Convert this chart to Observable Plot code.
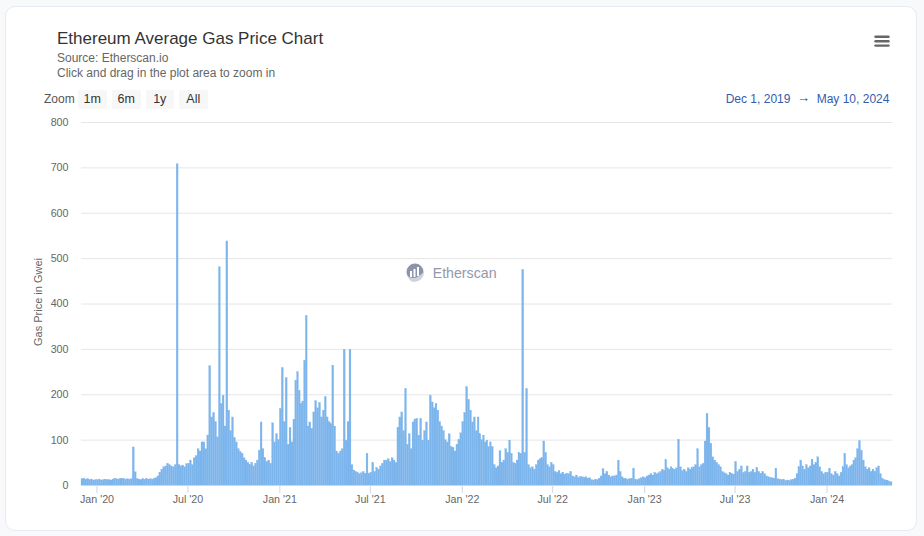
<!DOCTYPE html>
<html>
<head>
<meta charset="utf-8">
<script src="https://cdn.jsdelivr.net/npm/d3@7"></script>
<script src="https://cdn.jsdelivr.net/npm/@observablehq/plot@0.6"></script>
<style>
  html, body { margin: 0; padding: 0; }
  body { width: 924px; height: 536px; overflow: hidden; background: #f8f9fa; position: relative;
         font-family: "Liberation Sans", Arial, Helvetica, sans-serif; }
  .card { position: absolute; left: 5px; top: 6px; width: 910px; height: 523px; background: #fff;
          border: 1px solid #e7eaf3; border-radius: 10px; }
  .abs { position: absolute; white-space: nowrap; line-height: 1; }
  .title { left: 57px; top: 29.6px; font-size: 17px; color: #333; }
  .sub { left: 57px; font-size: 12px; color: #666; }
  .zoomlbl { left: 44px; top: 92.8px; font-size: 12px; color: #555; }
  .btn { top: 90px; width: 28.5px; height: 19px; line-height: 19px; background: #f7f7f7; border-radius: 2px;
         font-size: 12.5px; color: #333; text-align: center; }
  .date { top: 92.5px; font-size: 12px; color: #335cad; }
  .ylab { left: 38px; top: 302px; font-size: 11px; color: #666; transform: translate(-50%, -50%) rotate(-90deg); }
  #chart { position: absolute; left: 0; top: 110px; }
  .wm { left: 432.7px; top: 265.5px; font-size: 14.2px; color: #9398ae; }
</style>
</head>
<body>
<div class="card"></div>
<div class="abs title">Ethereum Average Gas Price Chart</div>
<div class="abs sub" style="top:52.1px">Source: Etherscan.io</div>
<div class="abs sub" style="top:66.8px">Click and drag in the plot area to zoom in</div>
<div class="abs zoomlbl">Zoom</div>
<div class="abs btn" style="left:78px">1m</div>
<div class="abs btn" style="left:112px">6m</div>
<div class="abs btn" style="left:145.5px">1y</div>
<div class="abs btn" style="left:179px">All</div>
<div class="abs date" style="left:725.7px">Dec 1, 2019</div>
<div class="abs date" style="left:797px;top:91px;font-size:13px;color:#444">→</div>
<div class="abs date" style="left:816.7px">May 10, 2024</div>
<svg class="abs" style="left:874px;top:35px" width="16" height="13" viewBox="0 0 16 13">
  <g stroke="#666" stroke-width="2.4" stroke-linecap="round">
    <line x1="1.5" y1="1.8" x2="14.5" y2="1.8"/>
    <line x1="1.5" y1="6.2" x2="14.5" y2="6.2"/>
    <line x1="1.5" y1="10.6" x2="14.5" y2="10.6"/>
  </g>
</svg>
<div class="abs ylab">Gas Price in Gwei</div>
<div id="chart"></div>
<svg class="abs" style="left:406px;top:263px" width="20" height="20" viewBox="0 0 20 20">
  <circle cx="9" cy="9" r="8.5" fill="#8d93ab"/>
  <path d="M1.5 13 Q9 19 18.5 8 Q17 19 8 19 Q3 18.5 1.5 13 Z" fill="#d0d3dd"/>
  <g fill="#fff">
    <rect x="4" y="8" width="2" height="6"/>
    <rect x="7.5" y="6" width="2" height="8"/>
    <rect x="11" y="4" width="2" height="9"/>
  </g>
</svg>
<div class="abs wm">Etherscan</div>
<script>
// Average gas price (Gwei), ~8 sub-periods per month
const gas2019 = [
  [14, 15, 13, 14, 12, 13, 11, 12]               // Dec
];
const gas2020 = [
  [12, 13, 11, 12, 13, 12, 12, 11],              // Jan
  [13, 15, 14, 13, 15, 14, 15, 13],              // Feb
  [14, 13, 14, 84, 29, 14, 13, 12],              // Mar
  [14, 13, 15, 13, 14, 13, 15, 16],              // Apr
  [20, 28, 35, 40, 42, 48, 45, 42],              // May
  [40, 45, 708, 45, 42, 44, 40, 47],             // Jun
  [48, 55, 45, 60, 65, 80, 75, 95],              // Jul
  [95, 80, 110, 263, 150, 160, 140, 106],        // Aug
  [481, 180, 198, 130, 538, 165, 120, 150],      // Sep
  [105, 95, 80, 74, 70, 60, 55, 50],             // Oct
  [45, 50, 42, 48, 55, 77, 139, 80],             // Nov
  [60, 52, 55, 48, 137, 95, 113, 100]            // Dec
];
const gas2021 = [
  [169, 259, 140, 237, 90, 127, 95, 145],        // Jan
  [231, 250, 209, 180, 185, 275, 374, 130],      // Feb
  [139, 125, 161, 186, 170, 182, 150, 165],      // Mar
  [195, 150, 140, 135, 264, 130, 75, 70],        // Apr
  [75, 80, 299, 99, 140, 299, 45, 33],           // May
  [30, 28, 25, 27, 30, 26, 70, 25],              // Jun
  [28, 50, 30, 39, 35, 42, 48, 55],              // Jul
  [55, 58, 52, 60, 55, 50, 127, 150],            // Aug
  [161, 120, 213, 90, 113, 80, 139, 145],        // Sep
  [147, 110, 147, 99, 120, 139, 99, 198],        // Oct
  [183, 170, 180, 165, 140, 130, 120, 100],      // Nov
  [95, 113, 85, 83, 75, 90, 100, 115]            // Dec
];
const gas2022 = [
  [140, 160, 217, 189, 165, 139, 150, 120],      // Jan
  [150, 113, 100, 110, 95, 99, 85, 95],          // Feb
  [85, 45, 38, 42, 76, 50, 55, 80],              // Mar
  [72, 99, 70, 50, 48, 55, 72, 70],              // Apr
  [475, 72, 213, 45, 38, 40, 35, 45],            // May
  [55, 58, 60, 97, 72, 45, 40, 50],              // Jun
  [45, 30, 28, 32, 25, 28, 24, 26],              // Jul
  [25, 30, 20, 18, 22, 17, 19, 18],              // Aug
  [17, 18, 15, 16, 12, 11, 13, 12],              // Sep
  [15, 20, 36, 25, 30, 22, 18, 20],              // Oct
  [20, 22, 55, 30, 18, 15, 14, 13],              // Nov
  [14, 15, 37, 13, 12, 14, 16, 18]               // Dec
];
const gas2023 = [
  [16, 20, 22, 25, 22, 28, 25, 27],              // Jan
  [30, 35, 32, 56, 38, 35, 40, 36],              // Feb
  [35, 38, 101, 40, 32, 35, 30, 38],             // Mar
  [35, 38, 40, 45, 80, 40, 45, 48],              // Apr
  [97, 158, 127, 92, 62, 55, 50, 45],            // May
  [40, 30, 27, 25, 22, 28, 26, 24],              // Jun
  [52, 30, 35, 42, 28, 30, 42, 28],              // Jul
  [30, 35, 28, 38, 30, 26, 30, 25],              // Aug
  [20, 18, 17, 16, 15, 37, 14, 13],              // Sep
  [12, 13, 10, 11, 10, 12, 13, 15],              // Oct
  [25, 40, 55, 42, 35, 45, 38, 42],              // Nov
  [57, 45, 50, 62, 40, 30, 25, 28]               // Dec
];
const gas2024 = [
  [28, 37, 25, 22, 30, 25, 20, 28],              // Jan
  [40, 70, 45, 38, 42, 45, 55, 60],              // Feb
  [80, 98, 77, 55, 40, 35, 38, 30],              // Mar
  [35, 30, 38, 42, 25, 15, 12, 11],              // Apr
  [10, 8, 7]                                     // May 1–10
];
const seriesByYear = [[2019, 11, gas2019], [2020, 0, gas2020], [2021, 0, gas2021],
                      [2022, 0, gas2022], [2023, 0, gas2023], [2024, 0, gas2024]];
const startDate = new Date(Date.UTC(2019, 11, 1));
const endDate = new Date(Date.UTC(2024, 4, 11));
const yTicks = [0, 100, 200, 300, 400, 500, 600, 700, 800];
const xTickDates = ["2020-01-01", "2020-07-01", "2021-01-01", "2021-07-01", "2022-01-01",
                    "2022-07-01", "2023-01-01", "2023-07-01", "2024-01-01"].map(d => new Date(d));
const xTickLabels = ["Jan '20", "Jul '20", "Jan '21", "Jul '21", "Jan '22", "Jul '22", "Jan '23", "Jul '23", "Jan '24"];

// Build bar table
const bars = [];
for (const [year, m0, months] of seriesByYear) {
  months.forEach((vals, i) => {
    const m = m0 + i;
    const s = Date.UTC(year, m, 1);
    let e = Date.UTC(year, m + 1, 1);
    if (e > +endDate) e = +endDate;
    const step = (e - s) / vals.length;
    vals.forEach((v, k) => bars.push({x1: new Date(s + k * step), x2: new Date(s + (k + 1) * step), v}));
  });
}

const chart = Plot.plot({
  width: 924,
  height: 410,
  marginLeft: 81,
  marginRight: 32,
  marginTop: 12,
  marginBottom: 35,
  style: {fontFamily: '"Liberation Sans", Arial, Helvetica, sans-serif', fontSize: "10.7px", background: "transparent", overflow: "visible"},
  x: {type: "utc", domain: [startDate, endDate], axis: null},
  y: {domain: [0, 800], axis: null},
  marks: [
    Plot.ruleY(yTicks, {stroke: "#e6e6e6", strokeWidth: 1}),
    Plot.rectY(bars, {x1: "x1", x2: "x2", y: "v", fill: "#7cb5ec", stroke: "#7cb5ec", strokeWidth: 0.25}),
    Plot.ruleY([0], {stroke: "#ccd6eb", strokeWidth: 1}),
    Plot.axisY({ticks: yTicks, tickSize: 0, tickPadding: 13, fill: "#666", fontSize: 10.7, label: null}),
    Plot.axisX({ticks: xTickDates, tickFormat: (d, i) => xTickLabels[i], tickSize: 8, tickPadding: 2,
                stroke: "#ccd6eb", fill: "#666", fontSize: 10.7, label: null})
  ]
});
document.getElementById("chart").appendChild(chart);
</script>
</body>
</html>
